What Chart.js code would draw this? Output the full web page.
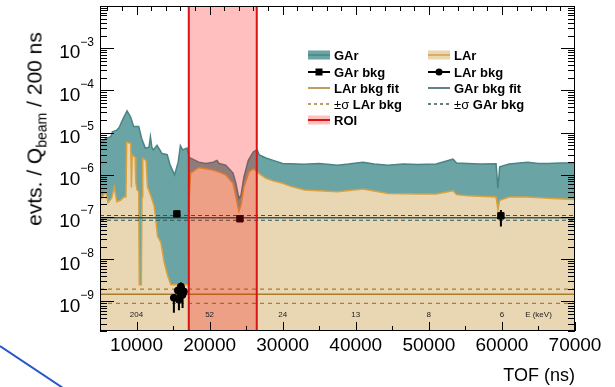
<!DOCTYPE html>
<html>
<head>
<meta charset="utf-8">
<script src="https://cdn.jsdelivr.net/npm/chart.js@4.4.0/dist/chart.umd.min.js"></script>
<style>
  body { margin: 0; background: #fff; }
  #wrap { position: relative; width: 615px; height: 387px; overflow: hidden; font-family: "Liberation Sans", Arial, sans-serif; color: #000; }
  #chart { position: absolute; left: 0; top: 0; }
  .ytitle { position: absolute; left: 36px; top: 129px; transform: translate(-50%, -50%) rotate(-90deg); white-space: nowrap; font-size: 21px; }
  .ytitle sub { font-size: 14px; vertical-align: -5px; }
  .xtitle { position: absolute; right: 40px; top: 365px; font-size: 18px; white-space: nowrap; }
  .item { position: absolute; height: 14px; line-height: 14px; white-space: nowrap; font: bold 13px "Liberation Sans", Arial, sans-serif; }
  .item svg { position: absolute; left: 0; top: 0; }
  .item span { position: absolute; left: 26px; top: 0; }
  .item b { font-weight: normal; }
  #stray { position: absolute; left: 0; top: 0; }
</style>
</head>
<body>
<div id="wrap">
  <canvas id="chart" width="615" height="387"></canvas>
  <div class="ytitle">evts. / Q<sub>beam</sub> / 200 ns</div>
  <div class="xtitle">TOF (ns)</div>
  <div id="legend"></div>
  <svg id="stray" width="615" height="387"><line x1="0" y1="346" x2="66" y2="390" stroke="#2457c9" stroke-width="2"/></svg>
</div>
<script>
// histogram contents (TOF in ns, counts)
const garTof = [5000, 5500, 5800, 6500, 6700, 7300, 7600, 8200, 8700, 9200,
  9600, 10300, 10700, 11200, 11700, 11900, 12100, 12300, 12800, 13500,
  14200, 14600, 15200, 15700, 16000, 16300, 16900, 17200, 18500, 19500,
  20500, 21000, 21300, 22200, 23200, 23600, 24000, 24300, 24700, 25300,
  26000, 26500, 26800, 27700, 28700, 30000, 32900, 35000, 37500, 39000,
  41000, 42500, 44400, 46500, 48500, 51000, 53300, 53800, 55300, 57000,
  59200, 59450, 59700, 61000, 63500, 65000, 66300, 68000, 70000];
const garVal = [6.1e-6, 6.5e-6, 7.3e-6, 8.0e-6, 1.05e-5, 1.15e-5, 1.3e-5, 2.2e-5, 3.3e-5, 2.3e-5,
  1.4e-5, 1.4e-5, 7.3e-6, 4.3e-6, 4.5e-6, 8.0e-6, 4.5e-6, 3.9e-6, 5.0e-6, 3.2e-6,
  3.0e-6, 1.7e-6, 1.0e-6, 2.0e-6, 4.9e-6, 3.9e-6, 4.3e-6, 2.6e-6, 2.0e-6, 1.86e-6,
  2.0e-6, 2.2e-6, 1.86e-6, 1.7e-6, 1.1e-6, 6.3e-7, 2.75e-7, 3.3e-7, 8.9e-7, 2.2e-6,
  3.5e-6, 3.9e-6, 2.95e-6, 2.5e-6, 2.2e-6, 1.86e-6, 1.78e-6, 1.86e-6, 1.7e-6, 1.8e-6,
  2.0e-6, 1.8e-6, 1.7e-6, 1.8e-6, 1.75e-6, 1.8e-6, 2.35e-6, 1.9e-6, 1.86e-6, 1.8e-6,
  1.82e-6, 4.8e-7, 1.55e-6, 1.8e-6, 2.0e-6, 1.85e-6, 1.86e-6, 1.9e-6, 1.9e-6];

const larTof = [5000, 5400, 5800, 6100, 6600, 6950, 7300, 7800, 8300, 8550,
  8650, 9200, 9300, 9400, 9800, 9900, 10050, 10300, 10370, 10650,
  10750, 10850, 11300, 11500, 11950, 12420, 12880, 13330, 13790, 14250,
  14700, 17150, 17200, 17400, 18500, 19500, 20450, 21300, 22200, 23200,
  23600, 24000, 24300, 24700, 25400, 26000, 26700, 27700, 28700, 30000,
  31000, 33000, 37500, 41000, 44400, 48500, 51000, 53300, 53800, 55300,
  59200, 59450, 59700, 61000, 63500, 66300, 70000];
const larVal = [2.5e-7, 3.2e-7, 4.0e-7, 2.2e-7, 2.8e-7, 5.2e-7, 2.3e-7, 2.5e-7, 3.0e-7, 3.0e-7,
  6.0e-6, 5.5e-6, 5.0e-7, 2.95e-6, 2.6e-6, 7.0e-7, 4.5e-7, 4.0e-7, 2.5e-9, 2.5e-9,
  3.0e-7, 2.45e-6, 2.2e-6, 5.2e-7, 3.2e-7, 1.8e-7, 3.5e-8, 2.5e-8, 8.3e-9, 4.1e-9,
  2.5e-9, 2.5e-9, 2.5e-7, 1.1e-6, 1.5e-6, 1.4e-6, 1.3e-6, 1.17e-6, 1.0e-6, 6.3e-7,
  3.0e-7, 1.35e-7, 1.95e-7, 5.2e-7, 1.17e-6, 1.4e-6, 1.1e-6, 8.3e-7, 7.2e-7, 6.3e-7,
  5.4e-7, 4.4e-7, 4.0e-7, 4.6e-7, 3.6e-7, 3.5e-7, 3.5e-7, 4.2e-7, 3.4e-7, 3.2e-7,
  3.0e-7, 1.5e-7, 2.5e-7, 3.0e-7, 3.0e-7, 2.8e-7, 2.6e-7];

// background points with error bars
const garBkgTof = [15520, 24150, 59860];
const garBkgVal = [1.19e-7, 9.1e-8, 1.07e-7];
const garBkgLo = [1.0e-7, 8.0e-8, 6.0e-8];
const garBkgHi = [1.35e-7, 1.02e-7, 1.48e-7];

const larBkgTof = [15110, 15660, 15800, 16070, 16300, 16480];
const larBkgVal = [1.22e-9, 1.82e-9, 1.1e-9, 2.26e-9, 1.45e-9, 1.73e-9];
const larBkgLo = [5.4e-10, 1.3e-9, 6.2e-10, 1.8e-9, 7.0e-10, 1.2e-9];
const larBkgHi = [1.5e-9, 2.3e-9, 1.4e-9, 2.8e-9, 1.8e-9, 2.2e-9];

// fits: [-sigma, fit, +sigma]
const larFit = [9.0e-10, 1.48e-9, 1.96e-9];
const garFit = [8.4e-8, 9.6e-8, 1.09e-7];

const roiRange = [17150, 26450];
const energyTof = [10000, 20000, 30000, 40000, 50000, 60000, 65000];
const energyLabels = ['204', '52', '24', '13', '8', '6', 'E (keV)'];
const xTickLabels = [10000, 20000, 30000, 40000, 50000, 60000, 70000];
const yExponents = [-9, -8, -7, -6, -5, -4, -3];

const xMin = 5000, xMax = 70000;
const pts = (xs, ys) => xs.map((t, i) => ({ x: t, y: ys[i] }));
const hline = v => [{ x: xMin, y: v }, { x: xMax, y: v }];

const TEAL = '#6ba4a4', TEAL_LINE = '#4b8484', TAN = '#e9d6b3', TAN_LINE = '#d9a140';
const FIT_BROWN = '#aa7c2c', FIT_TEAL = '#2e5757';

const errorBars = {
  id: 'errorBars',
  afterDatasetsDraw(chart) {
    const { ctx, scales: { x, y } } = chart;
    ctx.save();
    ctx.strokeStyle = '#000';
    ctx.lineWidth = 2;
    ctx.beginPath();
    [[garBkgTof, garBkgLo, garBkgHi], [larBkgTof, larBkgLo, larBkgHi]].forEach(([t, lo, hi]) => {
      t.forEach((v, i) => {
        const px = x.getPixelForValue(v);
        ctx.moveTo(px, y.getPixelForValue(lo[i]));
        ctx.lineTo(px, y.getPixelForValue(hi[i]));
      });
    });
    ctx.stroke();
    ctx.restore();
  }
};

const roiBox = {
  id: 'roiBox',
  afterDatasetsDraw(chart) {
    const { ctx, chartArea: a, scales: { x } } = chart;
    const x0 = x.getPixelForValue(roiRange[0]), x1 = x.getPixelForValue(roiRange[1]);
    ctx.save();
    ctx.fillStyle = 'rgba(255,0,0,0.25)';
    ctx.fillRect(x0, a.top, x1 - x0, a.bottom - a.top);
    ctx.strokeStyle = '#d81414';
    ctx.lineWidth = 2;
    ctx.beginPath();
    ctx.moveTo(x0, a.top); ctx.lineTo(x0, a.bottom);
    ctx.moveTo(x1, a.top); ctx.lineTo(x1, a.bottom);
    ctx.stroke();
    ctx.restore();
  }
};

// ROOT style frame, inward ticks, power-of-ten labels and energy labels
const frameTicks = {
  id: 'frameTicks',
  afterDraw(chart) {
    const { ctx, chartArea: a, scales: { x, y } } = chart;
    ctx.save();
    ctx.strokeStyle = '#000';
    ctx.lineWidth = 1;
    ctx.strokeRect(a.left + 0.5, a.top + 0.5, a.right - a.left - 1, a.bottom - a.top - 1);
    ctx.beginPath();
    for (let v = xMin; v <= xMax; v += 5000) {
      const px = Math.round(x.getPixelForValue(v)) + 0.5;
      const len = v % 10000 ? 5 : 9;
      ctx.moveTo(px, a.bottom); ctx.lineTo(px, a.bottom - len);
    }
    for (let v = 6000; v < xMax; v += 2000) {
      const px = Math.round(x.getPixelForValue(v)) + 0.5;
      const len = v % 10000 ? 5 : 9;
      ctx.moveTo(px, a.top); ctx.lineTo(px, a.top + len);
    }
    for (let e = -10; e <= -2; e++) {
      for (let m = 1; m < 10; m++) {
        const v = m * Math.pow(10, e);
        if (v < y.min * 0.999 || v > y.max * 1.001) continue;
        const py = Math.round(y.getPixelForValue(v)) + 0.5;
        const len = m === 1 ? 14 : 7;
        ctx.moveTo(a.left, py); ctx.lineTo(a.left + len, py);
        ctx.moveTo(a.right, py); ctx.lineTo(a.right - len, py);
      }
    }
    ctx.stroke();

    ctx.fillStyle = '#000';
    ctx.textBaseline = 'middle';
    const right = 94;
    yExponents.forEach(e => {
      const py = y.getPixelForValue(Math.pow(10, e));
      const exp = '\u2212' + Math.abs(e);
      ctx.font = '12px "Liberation Sans", Arial, sans-serif';
      const ew = ctx.measureText(exp).width;
      ctx.textAlign = 'left';
      ctx.fillText(exp, right - ew, py - 6);
      ctx.font = '19px "Liberation Sans", Arial, sans-serif';
      ctx.textAlign = 'right';
      ctx.fillText('10', right - ew, py + 5);
    });

    ctx.font = '8px "Liberation Sans", Arial, sans-serif';
    ctx.textAlign = 'center';
    ctx.fillStyle = '#222';
    energyTof.forEach((t, i) => {
      ctx.fillText(energyLabels[i], x.getPixelForValue(t), a.bottom - 16);
    });
    ctx.restore();
  }
};

new Chart(document.getElementById('chart'), {
  type: 'line',
  data: {
    datasets: [
      { label: 'GAr', data: pts(garTof, garVal), fill: 'start',
        backgroundColor: TEAL, borderColor: TEAL_LINE, borderWidth: 1.5, pointRadius: 0, order: 10 },
      { label: 'LAr', data: pts(larTof, larVal), fill: 'start',
        backgroundColor: TAN, borderColor: TAN_LINE, borderWidth: 1.5, pointRadius: 0, order: 9 },
      { label: 'LAr bkg fit', data: hline(larFit[1]), borderColor: FIT_BROWN, borderWidth: 1.5, pointRadius: 0, fill: false, order: 5 },
      { label: '-σ LAr bkg', data: hline(larFit[0]), borderColor: FIT_BROWN, borderWidth: 1.2, borderDash: [4, 4], pointRadius: 0, fill: false, order: 5 },
      { label: '+σ LAr bkg', data: hline(larFit[2]), borderColor: FIT_BROWN, borderWidth: 1.2, borderDash: [4, 4], pointRadius: 0, fill: false, order: 5 },
      { label: 'GAr bkg fit', data: hline(garFit[1]), borderColor: FIT_TEAL, borderWidth: 1.5, pointRadius: 0, fill: false, order: 5 },
      { label: '-σ GAr bkg', data: hline(garFit[0]), borderColor: FIT_TEAL, borderWidth: 1.2, borderDash: [4, 3], pointRadius: 0, fill: false, order: 5 },
      { label: '+σ GAr bkg', data: hline(garFit[2]), borderColor: FIT_TEAL, borderWidth: 1.2, borderDash: [4, 3], pointRadius: 0, fill: false, order: 5 },
      { label: 'GAr bkg', data: pts(garBkgTof, garBkgVal), showLine: false, pointStyle: 'rect', pointRadius: 4.5,
        backgroundColor: '#000', borderColor: '#000', order: 1 },
      { label: 'LAr bkg', data: pts(larBkgTof, larBkgVal), showLine: false, pointStyle: 'circle', pointRadius: 3.5,
        backgroundColor: '#000', borderColor: '#000', order: 1 }
    ]
  },
  options: {
    responsive: false,
    animation: false,
    devicePixelRatio: 1,
    layout: { padding: { top: 6, right: 40, left: 0, bottom: 0 } },
    plugins: { legend: { display: false }, tooltip: { enabled: false } },
    scales: {
      x: {
        type: 'linear', min: xMin, max: xMax,
        afterFit: s => { s.height = 56; },
        afterBuildTicks: s => { s.ticks = xTickLabels.map(v => ({ value: v })); },
        grid: { display: false }, border: { display: false },
        ticks: { color: '#000', padding: -5, maxRotation: 0, autoSkip: false,
          font: { family: '"Liberation Sans", Arial, sans-serif', size: 19 },
          callback: v => String(v) }
      },
      y: {
        type: 'logarithmic', min: 2e-10, max: 1e-2,
        afterFit: s => { s.width = 100; },
        grid: { display: false }, border: { display: false },
        ticks: { display: false }
      }
    }
  },
  plugins: [errorBars, roiBox, frameTicks]
});

// legend in two columns, ROOT style
const legendItems = [
  { col: 0, row: 0, text: 'GAr', sym: `<rect x="0" y="2.5" width="22" height="9" fill="${TEAL}"/><line x1="0" y1="7" x2="22" y2="7" stroke="${TEAL_LINE}" stroke-width="1.5"/>` },
  { col: 1, row: 0, text: 'LAr', sym: `<rect x="0" y="2.5" width="22" height="9" fill="${TAN}"/><line x1="0" y1="7" x2="22" y2="7" stroke="${TAN_LINE}" stroke-width="1.5"/>` },
  { col: 0, row: 1, text: 'GAr bkg', sym: `<line x1="0" y1="7" x2="22" y2="7" stroke="#000" stroke-width="2"/><rect x="7.5" y="3.5" width="7" height="7" fill="#000"/>` },
  { col: 1, row: 1, text: 'LAr bkg', sym: `<line x1="0" y1="7" x2="22" y2="7" stroke="#000" stroke-width="2"/><circle cx="11" cy="7" r="3.5" fill="#000"/>` },
  { col: 0, row: 2, text: 'LAr bkg fit', sym: `<line x1="0" y1="7" x2="22" y2="7" stroke="${FIT_BROWN}" stroke-width="1.5"/>` },
  { col: 1, row: 2, text: 'GAr bkg fit', sym: `<line x1="0" y1="7" x2="22" y2="7" stroke="${FIT_TEAL}" stroke-width="1.5"/>` },
  { col: 0, row: 3, text: '<b>±σ</b> LAr bkg', sym: `<line x1="0" y1="7" x2="22" y2="7" stroke="${FIT_BROWN}" stroke-width="1.3" stroke-dasharray="3,3"/>` },
  { col: 1, row: 3, text: '<b>±σ</b> GAr bkg', sym: `<line x1="0" y1="7" x2="22" y2="7" stroke="${FIT_TEAL}" stroke-width="1.3" stroke-dasharray="3,3"/>` },
  { col: 0, row: 4, text: 'ROI', sym: `<rect x="0" y="2.5" width="22" height="9" fill="#ffbfbf"/><line x1="0" y1="7" x2="22" y2="7" stroke="#d81414" stroke-width="2"/>` }
];
const colX = [308, 428];
const rowY = [55, 71.5, 87.5, 103.5, 120];
document.getElementById('legend').innerHTML = legendItems.map(it =>
  `<div class="item" style="left:${colX[it.col]}px;top:${rowY[it.row] - 7}px">` +
  `<svg width="22" height="14">${it.sym}</svg><span>${it.text}</span></div>`).join('');
</script>
</body>
</html>
